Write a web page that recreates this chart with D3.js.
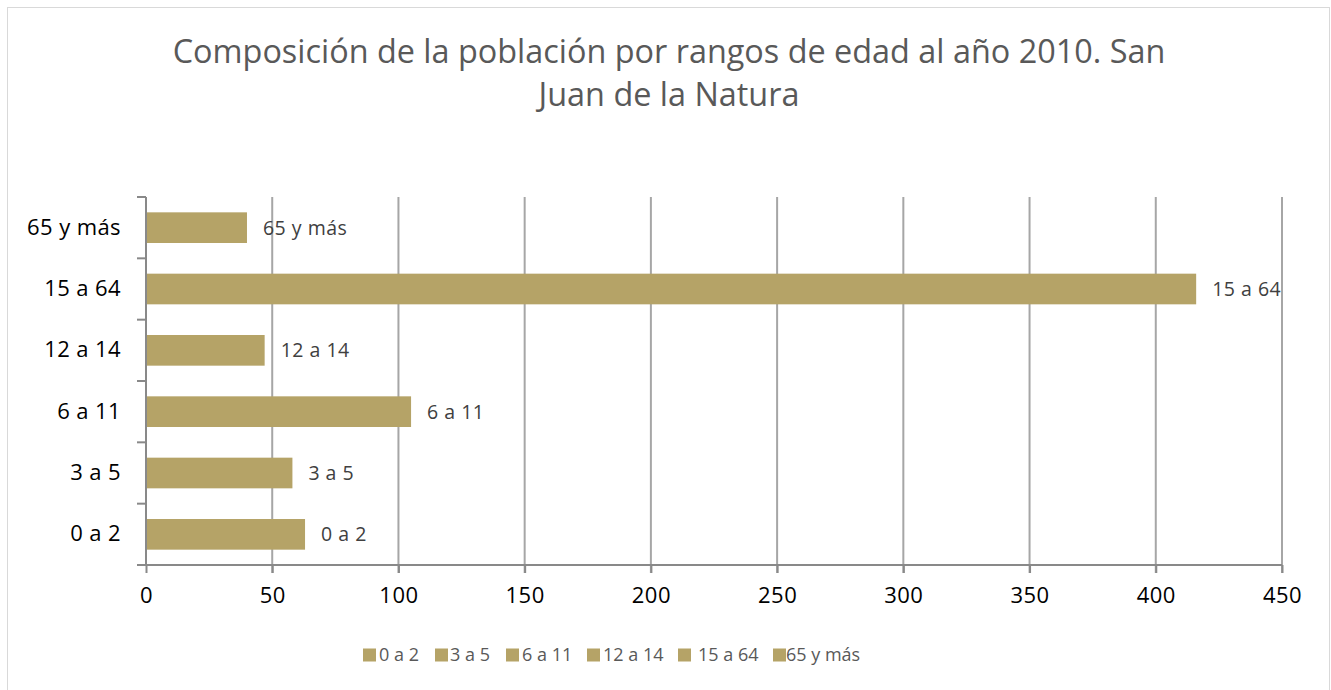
<!DOCTYPE html>
<html><head><meta charset="utf-8">
<script src="https://cdn.jsdelivr.net/npm/d3@7"></script>
<style>body{margin:0;background:#fff}svg{display:block}text{font-family:"Open Sans",sans-serif}</style>
</head><body><svg id="c" width="1331" height="690"></svg>
<script>
const categories = ["0 a 2","3 a 5","6 a 11","12 a 14","15 a 64","65 y más"];
const values = [63,58,105,47,416,40];
const xTicks = [0,50,100,150,200,250,300,350,400,450];
const titleLines = ["Composición de la población por rangos de edad al año 2010. San","Juan de la Natura"];
const barColor = "#b5a367";
const FF = '"Open Sans",sans-serif';

const svg = d3.select("#c");
svg.append("rect").attr("x",7.5).attr("y",7.5).attr("width",1322).attr("height",690).attr("fill","#fff").attr("stroke","#d9d9d9");

const m = {left:146,right:1282,top:197,bottom:565};
const x = d3.scaleLinear().domain([0,450]).range([m.left,m.right]);
const y = d3.scaleBand().domain(categories.slice().reverse()).range([m.top,m.bottom]).paddingInner(0.5).paddingOuter(0.25);

// title
svg.append("text").attr("x",669).attr("y",0).attr("fill","#595959").attr("font-size",32.4).attr("text-anchor","middle")
  .selectAll("tspan").data(titleLines).join("tspan").attr("x",669).attr("y",(d,i)=>63+i*43).text(d=>d);

// gridlines
svg.append("g").selectAll("line").data(xTicks.slice(1)).join("line")
  .attr("x1",d=>x(d)).attr("x2",d=>x(d)).attr("y1",m.top).attr("y2",m.bottom+8)
  .attr("stroke","#a6a6a6").attr("stroke-width",2);

// bars
svg.append("g").selectAll("rect").data(categories).join("rect")
  .attr("x",x(0)).attr("y",d=>y(d)).attr("height",y.bandwidth())
  .attr("width",(d,i)=>x(values[i])-x(0)).attr("fill",barColor);

// data labels
svg.append("g").selectAll("text").data(categories).join("text")
  .attr("x",(d,i)=>x(values[i])+16).attr("y",d=>y(d)+y.bandwidth()/2).attr("dy","0.36em")
  .attr("font-size",19.5).attr("letter-spacing",0.5).attr("fill","#404040").text(d=>d);

// x axis
const xa = svg.append("g").attr("transform",`translate(0,${m.bottom})`)
  .call(d3.axisBottom(x).tickValues(xTicks).tickSize(8).tickPadding(14).tickSizeOuter(0));
xa.select(".domain").attr("stroke","#898989").attr("stroke-width",2).attr("d",`M${m.left-9},0H${m.right}`);
xa.selectAll(".tick line").attr("stroke","#898989").attr("stroke-width",2);
xa.selectAll(".tick text").attr("font-size",22).attr("letter-spacing",0.5).attr("fill","#000").style("font-family",FF);

// y axis
const ya = svg.append("g").attr("transform",`translate(${m.left},0)`)
  .call(d3.axisLeft(y).tickSize(0).tickPadding(25));
ya.select(".domain").attr("stroke","#898989").attr("stroke-width",2).attr("d",`M0,${m.top}V${m.bottom}`);
ya.selectAll(".tick text").attr("font-size",22).attr("letter-spacing",0.4).attr("fill","#000").style("font-family",FF);
const step = (m.bottom-m.top)/categories.length;
ya.append("g").selectAll("line").data(d3.range(categories.length+1)).join("line")
  .attr("x1",-9).attr("x2",0).attr("y1",i=>m.top+i*step).attr("y2",i=>m.top+i*step)
  .attr("stroke","#898989").attr("stroke-width",2);

// legend
const legX = [363,435,506,587,678,773];
const legOff = [16,15,16,16,20,13];
const lg = svg.append("g").selectAll("g").data(categories).join("g")
  .attr("transform",(d,i)=>`translate(${legX[i]},655)`);
lg.append("rect").attr("x",0).attr("y",-6.5).attr("width",13).attr("height",13).attr("fill",barColor);
lg.append("text").attr("x",(d,i)=>legOff[i]).attr("dy","0.36em").attr("font-size",18).attr("fill","#595959").text(d=>d);
</script></body></html>
